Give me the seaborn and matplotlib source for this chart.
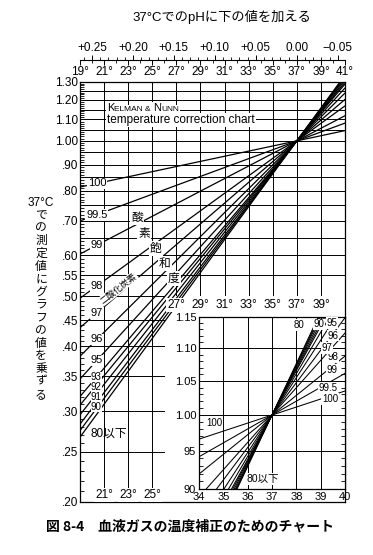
import matplotlib
matplotlib.use("Agg")
import matplotlib.pyplot as plt
import numpy as np
import pandas as pd
import seaborn as sns
from matplotlib.patches import Rectangle
from matplotlib.ticker import FixedLocator, MultipleLocator, NullFormatter

sns.set_theme(style="white")
plt.rcParams["font.family"] = ["Liberation Sans", "Noto Sans CJK JP", "DejaVu Sans"]
plt.rcParams["text.color"] = "black"
plt.rcParams["axes.edgecolor"] = "black"
plt.rcParams["xtick.color"] = "black"
plt.rcParams["ytick.color"] = "black"
JP = ["Noto Sans CJK JP", "DejaVu Sans"]

# Lines of equal O2 saturation (%), read as the multiplier at 19 deg C.
# Every line goes through 1.00 at 37 deg C.
sat_labels = ["100", "99.5", "99", "98", "97", "96", "95",
              "93", "92", "91", "90", "85", "80"]
factor_19 = [0.814, 0.700, 0.604, 0.496, 0.435, 0.383, 0.346,
             0.320, 0.308, 0.295, 0.283, 0.275, 0.267]
labelled_main = ["100", "99.5", "99", "98", "97", "96", "95"]
stacked_main = ["93", "92", "91", "90"]
pivot_temp = 37.0
pivot_factor = 1.00
line_temps = [19, 37, 41]

# top ruler: pH to add at 37 deg C
ph_ticks = [0.25, 0.20, 0.15, 0.10, 0.05, 0.00, -0.05]
ph_labels = ["+0.25", "+0.20", "+0.15", "+0.10", "+0.05", "0.00", "\u22120.05"]
ph_per_degree = 0.0147

temp_ticks = list(range(19, 42, 2))
y_ticks = [1.30, 1.20, 1.10, 1.00, 0.90, 0.80, 0.70, 0.60, 0.55,
           0.50, 0.45, 0.40, 0.35, 0.30, 0.25, 0.20]
y_labels = ["1.30", "1.20", "1.10", "1.00", ".90", ".80", ".70", ".60", ".55",
            ".50", ".45", ".40", ".35", ".30", ".25", ".20"]
inset_y_ticks = [0.90, 0.95, 1.00, 1.05, 1.10, 1.15]
inset_y_labels = ["90", "95", "1.00", "1.05", "1.10", "1.15"]
inset_x_ticks = [34, 35, 36, 37, 38, 39, 40]

rows = []
for sat, f in zip(sat_labels, factor_19):
    for t in line_temps:
        k = (pivot_temp - t) / (pivot_temp - line_temps[0])
        rows.append((sat, t, pivot_factor * (f / pivot_factor) ** k))
lines = pd.DataFrame(rows, columns=["sat", "temp", "factor"])

W, H = 373, 555


def box(l, t, r, b):
    # pixel box -> figure fraction
    return [l / W, 1 - b / H, (r - l) / W, (b - t) / H]


white = dict(boxstyle="square,pad=0.08", fc="white", ec="none")
tight = dict(boxstyle="square,pad=0.0", fc="white", ec="none")

fig = plt.figure(figsize=(W / 100, H / 100), dpi=100)
fig.patch.set_facecolor("white")

# ---- main chart
ax = fig.add_axes(box(80, 82, 345, 502))
ax.set_yscale("log")
sns.lineplot(data=lines, x="temp", y="factor", units="sat", estimator=None,
             color="black", lw=0.9, ax=ax, legend=False, zorder=2)
ax.set_xlim(19, 41)
ax.set_ylim(0.20, 1.30)
ax.set_xlabel("")
ax.set_ylabel("")

ax.set_xticks(temp_ticks)
ax.tick_params(axis="x", length=0, labelbottom=False)
grid_y = np.round(np.arange(0.20, 1.301, 0.05), 2)
ax.set_yticks(grid_y)
ax.set_yticklabels([y_labels[y_ticks.index(v)] if v in y_ticks else "" for v in grid_y])
ax.yaxis.set_minor_locator(FixedLocator(np.arange(0.20, 1.305, 0.01)))
ax.yaxis.set_minor_formatter(NullFormatter())
ax.tick_params(axis="y", which="major", left=True, length=0, pad=1.5, labelsize=8.5)
ax.tick_params(axis="y", which="minor", left=True, direction="in", length=3, width=0.6)
ax.grid(True, which="major", color="black", lw=0.7)
ax.set_axisbelow(True)
for s in ax.spines.values():
    s.set_color("black")
    s.set_linewidth(0.9)

# blank area that holds the enlarged chart
ax.add_patch(Rectangle((26.05, 0.20), 41 - 26.05, 0.50 - 0.20,
                       fc="white", ec="none", zorder=1.5))

label_temp = 20.4
for sat, f in zip(sat_labels, factor_19):
    if sat in labelled_main:
        y = f ** ((pivot_temp - label_temp) / (pivot_temp - line_temps[0]))
        ax.text(label_temp, y, sat, ha="center", va="center", fontsize=8,
                bbox=white, zorder=3)
# the close lines get their labels stacked down the left edge
for sat, y in zip(stacked_main, [0.349, 0.3335, 0.319, 0.305]):
    ax.text(20.35, y, sat, ha="center", va="center", fontsize=7,
            bbox=tight, zorder=3)
ax.text(19.9, 0.271, "80以下", ha="left", va="center", fontsize=8.5, zorder=3)

for ch, x, y in [("酸", 23.73, 0.712), ("素", 24.31, 0.663), ("飽", 25.31, 0.620),
                 ("和", 26.05, 0.580), ("度", 26.80, 0.542)]:
    ax.text(x, y, ch, ha="center", va="center", fontsize=8.5, family=JP,
            bbox=white, zorder=3)
ax.text(22.2, 0.518, "二酸化炭素", ha="center", va="center", fontsize=6.3,
        family=JP, rotation=38, bbox=white, zorder=3)

# small caps title
prev = ax.text(21.24, 1.159, "K", ha="left", va="center", fontsize=8,
               bbox=white, zorder=3)
for txt, size in [("ELMAN & ", 6), ("N", 8), ("UNN", 6)]:
    prev = ax.annotate(txt, xy=(1, 0), xycoords=prev, ha="left", va="bottom",
                       fontsize=size, bbox=white, zorder=3)
ax.text(21.24, 1.098, "temperature correction chart", ha="left", va="center",
        fontsize=8.5, bbox=white, zorder=3)

for t in temp_ticks[4:-1]:
    ax.text(t, 0.481, f"{t}°", ha="center", va="center", fontsize=8.5,
            bbox=white, zorder=3)
for t in temp_ticks[1:4]:
    ax.text(t, 0.206, f"{t}°", ha="center", va="center", fontsize=8.5,
            bbox=white, zorder=3)

# ---- top ruler: degrees below the line, pH above it
rul = fig.add_axes(box(80, 60, 345, 60.01))
rul.set_xlim(19, 41)
rul.set_yticks([])
rul.patch.set_alpha(0)
for name, s in rul.spines.items():
    s.set_visible(name == "bottom")
    s.set_color("black")
    s.set_linewidth(0.8)
rul.set_xticks(temp_ticks, [f"{t}°" for t in temp_ticks])
rul.xaxis.set_minor_locator(MultipleLocator(1))
rul.tick_params(axis="x", which="major", bottom=True, direction="out", length=3.5,
                width=0.7, pad=0.5, labelsize=8.5)
rul.tick_params(axis="x", which="minor", bottom=True, direction="out", length=2,
                width=0.6)

ph = rul.twiny()
ph.set_xlim((pivot_temp - 19) * ph_per_degree, (pivot_temp - 41) * ph_per_degree)
ph.set_xticks(ph_ticks, ph_labels)
ph.xaxis.set_minor_locator(MultipleLocator(0.01))
ph.tick_params(axis="x", which="major", top=True, direction="out", length=3.5,
               width=0.7, pad=1, labelsize=8.5)
ph.tick_params(axis="x", which="minor", top=True, direction="out", length=2,
               width=0.6)
for s in ph.spines.values():
    s.set_visible(False)
ph.patch.set_alpha(0)

# ---- enlarged chart around 37 deg C
axin = fig.add_axes(box(199, 317, 345, 489))
axin.set_yscale("log")
sns.lineplot(data=lines, x="temp", y="factor", units="sat", estimator=None,
             color="black", lw=0.75, ax=axin, legend=False, zorder=2)
axin.set_xlim(34, 40)
axin.set_ylim(0.90, 1.15)
axin.set_xlabel("")
axin.set_ylabel("")
axin.set_xticks(inset_x_ticks)
axin.set_yticks(inset_y_ticks)
axin.set_yticklabels(inset_y_labels)
axin.yaxis.set_minor_locator(FixedLocator(np.arange(0.90, 1.155, 0.01)))
axin.yaxis.set_minor_formatter(NullFormatter())
axin.tick_params(axis="both", which="major", length=0, pad=2, labelsize=8)
axin.tick_params(axis="y", which="minor", left=True, right=True, direction="in",
                 length=3, width=0.6)
axin.grid(True, which="major", color="black", lw=0.7)
axin.set_axisbelow(True)
for s in axin.spines.values():
    s.set_color("black")
    s.set_linewidth(0.9)

for txt, x, y in [("100", 39.38, 1.023), ("99.5", 39.30, 1.039), ("99", 39.47, 1.066),
                  ("98", 39.51, 1.086), ("97", 39.26, 1.100), ("96", 39.51, 1.120),
                  ("95", 39.47, 1.140), ("90", 38.93, 1.138), ("80", 38.11, 1.137),
                  ("100", 34.62, 0.989)]:
    axin.text(x, y, txt, ha="center", va="center", fontsize=7, bbox=white, zorder=3)
axin.text(36.63, 0.913, "80以下", ha="center", va="center", fontsize=7.5,
          bbox=white, zorder=3)

# ---- outer texts
fig.text(222 / W, 1 - 17 / H, "37°CでのpHに下の値を加える", ha="center", va="center",
         fontsize=9.5)
fig.text(41 / W, 1 - 203 / H, "37°C", ha="center", va="center", fontsize=8.5)
for i, ch in enumerate("での測定値にグラフの値を乗ずる"):
    fig.text(41 / W, 1 - (215 + i * 12.8) / H, ch, ha="center", va="center",
             fontsize=8.5, family=JP)
fig.text(190 / W, 1 - 527 / H, "図 8-4　血液ガスの温度補正のためのチャート",
         ha="center", va="center", fontsize=10, family=JP, weight="bold")

fig.savefig("out.png", dpi=100, facecolor="white")
